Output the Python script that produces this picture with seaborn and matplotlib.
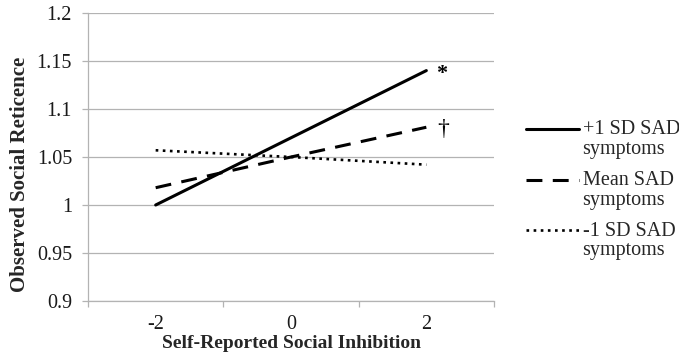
import matplotlib
matplotlib.use("Agg")
import matplotlib.pyplot as plt
import seaborn as sns
import pandas as pd
from matplotlib.lines import Line2D

# Simple slopes: predicted social reticence at -2, 0, +2 of social inhibition
inhibition = ["-2", "0", "2"]
high_sad = [1.000, 1.070, 1.140]
mean_sad = [1.018, 1.050, 1.081]
low_sad = [1.057, 1.050, 1.042]
series_labels = ["+1 SD SAD\nsymptoms", "Mean SAD\nsymptoms", "-1 SD SAD\nsymptoms"]
markers_txt = ["*", "\u2020", ""]

sns.set_theme(style="white")
plt.rcParams["font.family"] = ["Liberation Serif", "DejaVu Serif"]

df = pd.DataFrame({
    "inhibition": inhibition * 3,
    "reticence": high_sad + mean_sad + low_sad,
    "group": [series_labels[0]] * 3 + [series_labels[1]] * 3 + [series_labels[2]] * 3,
})

fig = plt.figure(figsize=(6.79, 3.6), dpi=100)
ax = fig.add_axes([88 / 679, 1 - 301 / 360, (494 - 88) / 679, (301 - 13) / 360])

styles = {
    series_labels[0]: dict(linestyle="-", linewidth=2.2),
    series_labels[1]: dict(linestyle=(0, (5.2, 3.4)), linewidth=2.2),
    series_labels[2]: dict(linestyle=(0, (1.0, 1.7)), linewidth=1.9),
}

for lab in series_labels:
    sub = df[df["group"] == lab]
    sns.lineplot(data=sub, x="inhibition", y="reticence", ax=ax, color="black",
                 sort=False, legend=False, **styles[lab])

# significance markers at the right end of each slope
ends = [high_sad[-1], mean_sad[-1], low_sad[-1]]
for val, txt in zip(ends, markers_txt):
    if txt == "*":
        ax.text(2.07, val - 0.004, txt, fontsize=16, fontweight="bold",
                va="center", ha="left", color="black")
    elif txt:
        ax.text(2.08, val - 0.002, txt, fontsize=17, va="center", ha="left",
                color="black")

ax.set_ylim(0.9, 1.2)
ax.set_yticks([0.9, 0.95, 1.0, 1.05, 1.1, 1.15, 1.2])
ax.set_yticklabels(["0.9", "0.95", "1", "1.05", "1.1", "1.15", "1.2"])
ax.set_xlim(-0.5, 2.5)
ax.set_xticks([0, 1, 2])
ax.set_xticklabels(inhibition)
ax.set_xticks([-0.5, 0.5, 1.5, 2.5], minor=True)

grid_c = "#b3b3b3"
ax.yaxis.grid(True, color=grid_c, linewidth=0.9)
ax.xaxis.grid(False)
ax.set_axisbelow(True)
for s in ["top", "right"]:
    ax.spines[s].set_visible(False)
for s in ["left", "bottom"]:
    ax.spines[s].set_color(grid_c)
    ax.spines[s].set_linewidth(0.9)

ax.tick_params(axis="y", which="major", length=4.5, color=grid_c, width=0.9,
               labelsize=14.5, pad=7, left=True, labelcolor="#1a1a1a")
ax.tick_params(axis="x", which="major", length=0, labelsize=14.5, pad=10,
               labelcolor="#1a1a1a")
ax.tick_params(axis="x", which="minor", length=4.5, color=grid_c, width=0.9,
               bottom=True, direction="out")

ax.set_xlabel("Self-Reported Social Inhibition", fontsize=14, fontweight="bold")
ax.set_ylabel("Observed Social Reticence", fontsize=15, fontweight="bold")
ax.xaxis.set_label_coords(0.5, -0.118)
ax.yaxis.set_label_coords(-0.143, 0.44)

handles = [Line2D([], [], color="black", **styles[lab]) for lab in series_labels]
leg = fig.legend(handles, series_labels, loc="upper left",
                 bbox_to_anchor=(508 / 679, 1 - 102 / 360), frameon=False,
                 fontsize=14.5, handlelength=2.65, handletextpad=0.15,
                 labelspacing=0.6)
for t in leg.get_texts():
    t.set_linespacing(1.05)
# keep each key line level with the first line of its label
for ln in leg.get_lines():
    ln.set_ydata([y + 7.6 for y in ln.get_ydata()])

fig.savefig("out.png", dpi=100, facecolor="white")
